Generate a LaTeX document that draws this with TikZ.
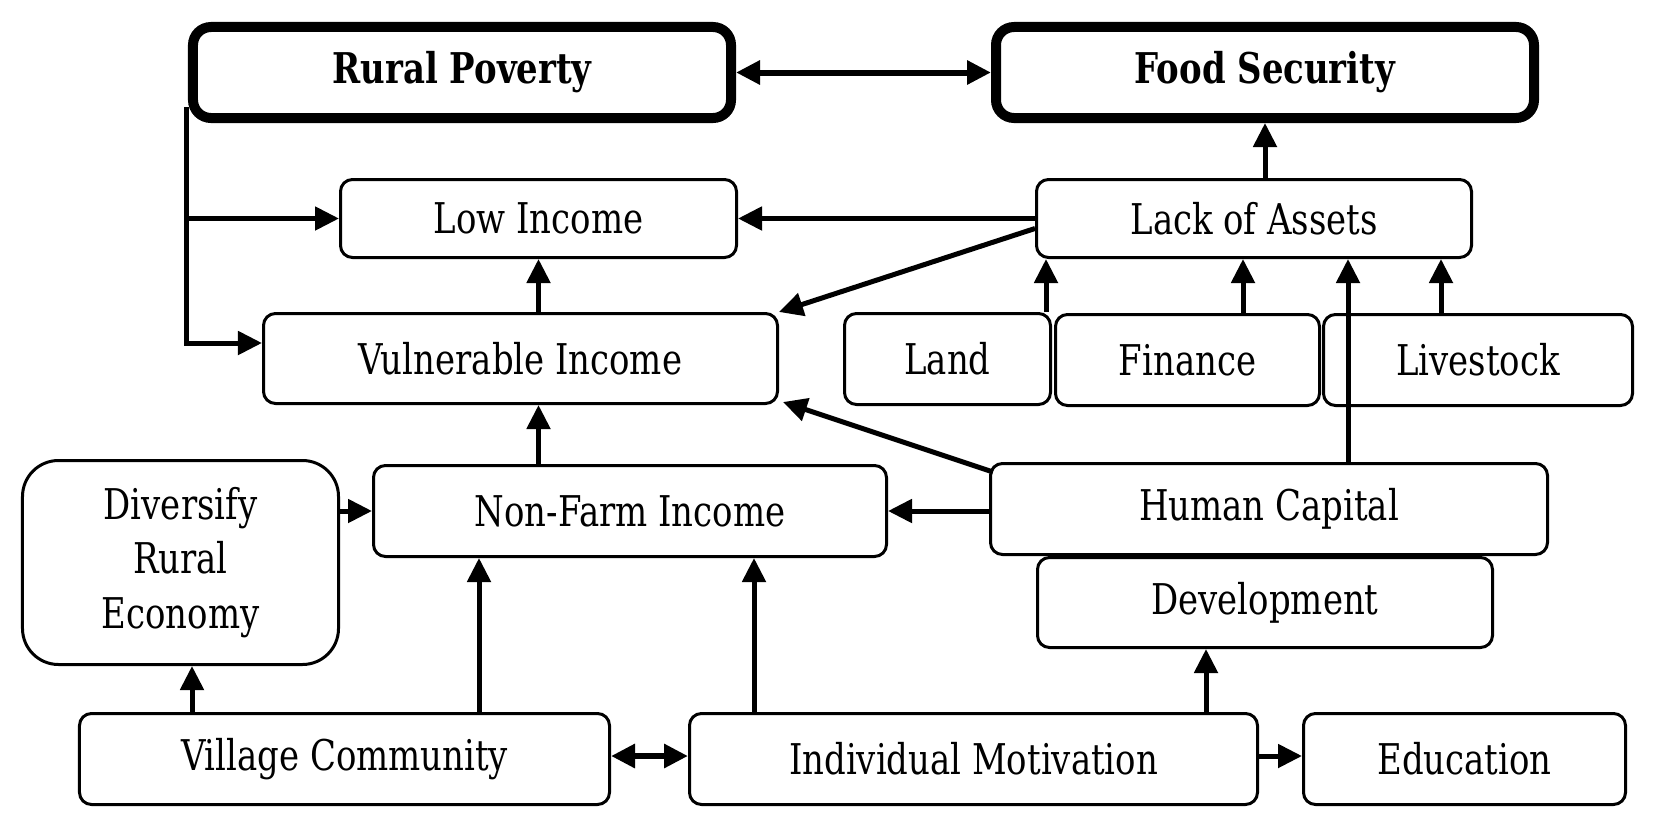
\documentclass[tikz,border=0pt]{standalone}
\usepackage{fontspec}
\setmainfont{DejaVu Serif Condensed}[FakeStretch=0.89]
\usetikzlibrary{arrows.meta,calc}
\begin{document}
\begin{tikzpicture}[x=1bp,y=-1bp,
  box/.style={draw, line width=3bp, rounded corners=12bp, inner sep=0pt, align=center,
    font=\fontsize{42.5}{55}\selectfont},
  mainbox/.style={box, line width=10bp, rounded corners=18bp, font=\fontsize{42.5}{55}\selectfont\bfseries},
  arr/.style={line width=5bp, -{Triangle[length=24bp,width=23bp]}},
  darr/.style={line width=6bp, {Triangle[length=24bp,width=23bp]}-{Triangle[length=24bp,width=23bp]}}
]
\useasboundingbox (0,0) rectangle (1660,826);
% nodes
\node[mainbox, minimum width=538bp, minimum height=91bp] (RP) at (462,72.5) {Rural Poverty};
\node[mainbox, minimum width=538bp, minimum height=91bp] (FS) at (1265,72.5) {Food Security};
\node[box, minimum width=396bp, minimum height=78bp] (LI) at (538.5,218.5) {Low Income};
\node[box, minimum width=435bp, minimum height=78bp] (LA) at (1254,218.5) {Lack of Assets};
\node[box, minimum width=514bp, minimum height=90bp] (VI) at (520.5,358.5) {Vulnerable Income};
\node[box, minimum width=206bp, minimum height=91bp] (Land) at (947.5,359) {Land};
\node[box, minimum width=264bp, minimum height=91bp] (Fin) at (1187.5,360) {Finance};
\node[box, minimum width=309bp, minimum height=91bp] (Live) at (1478,360) {Livestock};
\node[box, rounded corners=36bp, minimum width=316bp, minimum height=204bp] (DRE) at (180.5,562.5) {Diversify\\Rural\\Economy};
\node[box, minimum width=513bp, minimum height=91bp] (NF) at (630,511) {Non-Farm Income};
\node[box, minimum width=557bp, minimum height=91bp] (HC) at (1269,509) {Human Capital};
\node[box, minimum width=455bp, minimum height=90bp] (Dev) at (1265,602.5) {Development};
\node[box, minimum width=530bp, minimum height=91bp] (VC) at (344.5,759) {Village Community};
\node[box, minimum width=568bp, minimum height=91bp] (IM) at (973.5,759) {Individual Motivation};
\node[box, minimum width=322bp, minimum height=91bp] (Edu) at (1464.5,759) {Education};
% helper coordinates
\coordinate (rpl) at ($(RP.south west)+(-1,-16)$);
\coordinate (rpv) at (rpl |- 0,343);
\coordinate (via) at ($(VI.west)+(0,-15.5)$);
\coordinate (laa) at ($(LA.west)+(0,10)$);
\coordinate (landa) at ($(Land.north)+(98.5,0)$);
\coordinate (fina) at ($(Fin.north)+(55.5,0)$);
\coordinate (livea) at ($(Live.north)+(-37,0)$);
\coordinate (hca) at ($(HC.north)+(79,0)$);
\coordinate (hcb) at ($(HC.north west)+(4,10)$);
\coordinate (vib) at ($(VI.south east)+(4,-3)$);
\coordinate (vca) at ($(VC.north)+(-152.5,0)$);
\coordinate (vcb) at ($(VC.north)+(134.5,0)$);
\coordinate (ima) at ($(IM.north)+(-219.5,0)$);
\coordinate (imb) at ($(IM.north)+(232.5,0)$);
\coordinate (vce) at ($(VC.east)+(0,-3)$);
\coordinate (imw) at ($(IM.west)+(0,-3)$);
\coordinate (ime) at ($(IM.east)+(0,-3)$);
\coordinate (eduw) at ($(Edu.west)+(0,-3)$);
% connectors
\draw[darr] (RP.east) -- (FS.west);
\draw[arr] (rpl) -- (rpv) -- (via);
\draw[arr] (rpl |- LI.west) -- (LI.west);
\draw[arr] (LA.west) -- (LI.east);
\draw[arr] (FS.south |- LA.north) -- (FS.south);
\draw[arr] (LI.south |- VI.north) -- (LI.south);
\draw[arr] (laa) -- (VI.north east);
\draw[arr] (landa) -- (landa |- LA.south);
\draw[arr] (fina) -- (fina |- LA.south);
\draw[arr] (livea) -- (livea |- LA.south);
\draw[arr] (hca) -- (hca |- LA.south);
\draw[arr] (LI.south |- NF.north) -- (LI.south |- VI.south);
\draw[arr] (hcb) -- (vib);
\draw[arr] (HC.west |- NF.east) -- (NF.east);
\draw[arr] (DRE.east |- NF.west) -- (NF.west);
\draw[arr] (vca) -- (vca |- DRE.south);
\draw[arr] (vcb) -- (vcb |- NF.south);
\draw[arr] (ima) -- (ima |- NF.south);
\draw[arr] (imb) -- (imb |- Dev.south);
\draw[darr] (vce) -- (imw);
\draw[arr] (ime) -- (eduw);
\end{tikzpicture}
\end{document}
